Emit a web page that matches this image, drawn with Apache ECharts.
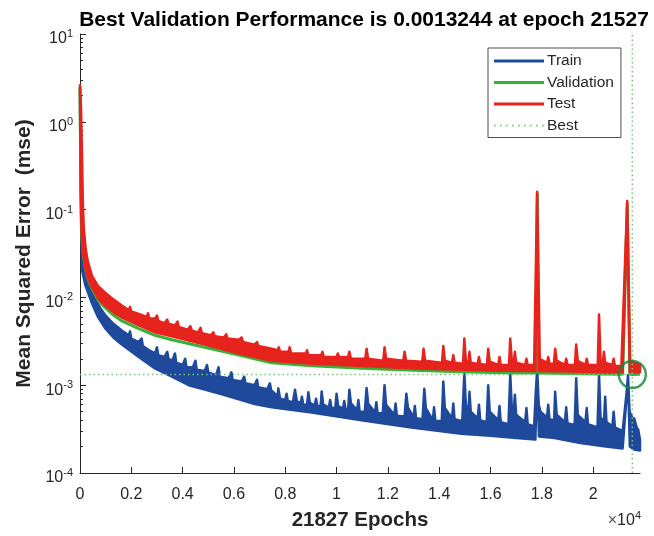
<!DOCTYPE html>
<html>
<head>
<meta charset="utf-8">
<script src="https://cdn.jsdelivr.net/npm/echarts@6/dist/echarts.min.js"></script>
<style>
  html, body { margin: 0; padding: 0; background: #fff; }
  #chart { width: 654px; height: 536px; }
</style>
</head>
<body>
<div id="chart"></div>
<script>
// performance record: [epoch, mse]
const bestEpoch = 21527
const bestPerf = 0.0013244
const totalEpochs = 21827

const xTickValues = [0, 2000, 4000, 6000, 8000, 10000, 12000, 14000, 16000, 18000, 20000]
const xTickLabels = ['0', '0.2', '0.4', '0.6', '0.8', '1', '1.2', '1.4', '1.6', '1.8', '2']

// train curve is a dense noisy band: upper and lower edge
const trainTop = [
  [0, 2.4], [15, 0.6], [40, 0.12], [80, 0.04], [150, 0.026], [250, 0.018], [400, 0.013], [600, 0.0095],
  [800, 0.0075], [1000, 0.0062], [1300, 0.005], [1630, 0.0042], [1900, 0.0037], [1950, 0.0041], [2000, 0.0034],
  [2290, 0.0031], [2400, 0.0034], [2450, 0.0028], [2700, 0.0025], [2920, 0.0023], [3000, 0.0027], [3050, 0.0022],
  [3300, 0.0021], [3400, 0.0024], [3450, 0.002], [3600, 0.0019], [3700, 0.0023], [3750, 0.0018], [4000, 0.0017],
  [4100, 0.002], [4150, 0.0016], [4400, 0.0016], [4500, 0.0019], [4550, 0.0015], [4860, 0.00145], [4950, 0.0017],
  [5000, 0.0014], [5300, 0.0013], [5400, 0.0016], [5450, 0.00125], [5800, 0.0012], [5900, 0.0014], [5950, 0.00115],
  [6300, 0.0011], [6400, 0.00125], [6450, 0.00105], [6800, 0.001], [6900, 0.00115], [6950, 0.00095], [7300, 0.0009],
  [7400, 0.00105], [7450, 0.00088], [7700, 0.00075], [7730, 0.00092], [7800, 0.0007], [8000, 0.00068], [8050, 0.0008],
  [8100, 0.00066], [8300, 0.00064], [8380, 0.00089], [8450, 0.00066], [8600, 0.00062], [8650, 0.00074],
  [8700, 0.0006], [8850, 0.0006], [8900, 0.00083], [8960, 0.00063], [9150, 0.00059], [9200, 0.0007],
  [9250, 0.00058], [9380, 0.00058], [9420, 0.00085], [9480, 0.0006], [9700, 0.00056], [9750, 0.00068],
  [9800, 0.00055], [9950, 0.00055], [10000, 0.0008], [10060, 0.00058], [10250, 0.00054], [10300, 0.00066],
  [10350, 0.00053], [10450, 0.00053], [10500, 0.00089], [10560, 0.00062], [10800, 0.00052], [10850, 0.00068],
  [10900, 0.0005], [11100, 0.0005], [11170, 0.00093], [11230, 0.00062], [11500, 0.00049], [11550, 0.00064],
  [11600, 0.00048], [11800, 0.00048], [11870, 0.001], [11930, 0.0006], [12250, 0.00046], [12300, 0.00062],
  [12350, 0.00045], [12650, 0.00044], [12720, 0.0008], [12780, 0.00056], [13000, 0.00043], [13050, 0.00058],
  [13100, 0.00042], [13350, 0.00041], [13420, 0.00091], [13480, 0.00055], [13750, 0.0004], [13800, 0.00056],
  [13850, 0.00039], [14100, 0.00039], [14160, 0.0011], [14220, 0.00055], [14500, 0.00042], [14550, 0.00062],
  [14600, 0.00041], [14900, 0.00039], [14980, 0.0014], [15040, 0.0006], [15140, 0.0005], [15180, 0.00084],
  [15230, 0.0005], [15500, 0.00042], [15550, 0.0006], [15600, 0.0004], [15850, 0.00038], [15910, 0.001],
  [15970, 0.0005], [16300, 0.0004], [16350, 0.00058], [16400, 0.00038], [16700, 0.00036], [16770, 0.00135],
  [16830, 0.00055], [16900, 0.00048], [16950, 0.00078], [17000, 0.00046], [17350, 0.00038], [17400, 0.00055],
  [17450, 0.00036], [17700, 0.00034], [17770, 0.0009], [17820, 0.0015], [17880, 0.0006], [17950, 0.0005],
  [18200, 0.00043], [18250, 0.0006], [18300, 0.00041], [18480, 0.0004], [18520, 0.00084], [18580, 0.00046],
  [18900, 0.00038], [18950, 0.00056], [19000, 0.00037], [19280, 0.00035], [19340, 0.0012], [19400, 0.00046],
  [19700, 0.00038], [19750, 0.00055], [19800, 0.00036], [20170, 0.00033], [20230, 0.0013], [20290, 0.00043],
  [20420, 0.00038], [20470, 0.00074], [20520, 0.00038], [20750, 0.00034], [20800, 0.0005], [20850, 0.00033],
  [21150, 0.0003], [21300, 0.0008], [21360, 0.0013], [21420, 0.0005], [21480, 0.00046], [21560, 0.0004],
  [21600, 0.00042], [21700, 0.00033], [21760, 0.00031], [21827, 0.00024]
]
const trainBottom = [
  [0, 2.2], [15, 0.45], [40, 0.09], [80, 0.0205], [200, 0.014], [470, 0.0085], [700, 0.006], [970, 0.0045],
  [1300, 0.0035], [1630, 0.0029], [2290, 0.0021], [2920, 0.00155], [3580, 0.00125], [4240, 0.001], [4860, 0.00089],
  [5530, 0.00079], [6190, 0.00069], [6810, 0.00061], [7470, 0.00056], [9030, 0.00049], [10970, 0.0004],
  [12920, 0.00033], [14860, 0.00028], [16000, 0.000265], [17000, 0.00025], [17750, 0.00024], [17820, 0.0013],
  [17890, 0.00026], [18500, 0.00025], [19500, 0.00022], [20500, 0.0002], [21150, 0.00019], [21360, 0.0012],
  [21430, 0.0002], [21600, 0.000185], [21827, 0.00018]
]

const validation = [
  [0, 2.5], [10, 1.1], [30, 0.22], [60, 0.058], [100, 0.036], [200, 0.022], [300, 0.0165], [470, 0.0125],
  [700, 0.0094], [970, 0.0077], [1300, 0.0063], [1630, 0.0054], [2290, 0.0044], [2920, 0.0037], [3580, 0.0033],
  [4860, 0.0027], [6190, 0.0022], [7470, 0.0018], [9000, 0.00166], [11000, 0.00156], [13000, 0.00148],
  [14860, 0.00142], [16500, 0.00139], [17760, 0.00138], [17820, 0.155], [17880, 0.00138], [19000, 0.00136],
  [20200, 0.00134], [21150, 0.00133], [21330, 0.118], [21430, 0.00133], [21527, 0.0013244], [21827, 0.00133]
]

const testTop = [
  [0, 2.6], [40, 1.4], [80, 0.4], [110, 0.12], [150, 0.06], [220, 0.036], [300, 0.026], [470, 0.0175],
  [700, 0.0135], [970, 0.0114], [1300, 0.0095], [1630, 0.0081], [1900, 0.0072], [1950, 0.0078], [2000, 0.0069],
  [2290, 0.0065], [2600, 0.006], [2650, 0.0066], [2700, 0.0058], [2920, 0.0057], [3000, 0.0062], [3050, 0.0054],
  [3300, 0.0051], [3400, 0.0056], [3450, 0.005], [3700, 0.0048], [3800, 0.0053], [3850, 0.0046], [4200, 0.0043],
  [4300, 0.0047], [4350, 0.0042], [4600, 0.004], [4700, 0.0045], [4750, 0.0039], [5100, 0.0037], [5200, 0.004],
  [5250, 0.0036], [5600, 0.0035], [5700, 0.0038], [5750, 0.0034], [6190, 0.0033], [6300, 0.0035], [6350, 0.0031],
  [6800, 0.0029], [6900, 0.0031], [6950, 0.0028], [7470, 0.0026], [7700, 0.0025], [7750, 0.0027], [7800, 0.0024],
  [8130, 0.0024], [8170, 0.0027], [8230, 0.0023], [8800, 0.0023], [8850, 0.0025], [8900, 0.0022], [9400, 0.0022],
  [9450, 0.0024], [9500, 0.0021], [10000, 0.0021], [10050, 0.0023], [10100, 0.0021], [10450, 0.0021],
  [10500, 0.0024], [10560, 0.002], [11120, 0.002], [11170, 0.0026], [11230, 0.002], [11820, 0.0019],
  [11870, 0.0027], [11930, 0.002], [12600, 0.0019], [12650, 0.0024], [12710, 0.0019], [13340, 0.00185],
  [13390, 0.0026], [13450, 0.0019], [14110, 0.0018], [14160, 0.0028], [14220, 0.0019], [14500, 0.0018],
  [14550, 0.0022], [14600, 0.0018], [14930, 0.00175], [14980, 0.0034], [15040, 0.0019], [15140, 0.0018],
  [15180, 0.0024], [15230, 0.0018], [15500, 0.00175], [15550, 0.0021], [15600, 0.00175], [15860, 0.0017],
  [15910, 0.0026], [15970, 0.00185], [16300, 0.0017], [16350, 0.0021], [16400, 0.0017], [16720, 0.0017],
  [16770, 0.0034], [16830, 0.0019], [16900, 0.0018], [16950, 0.0024], [17000, 0.0018], [17350, 0.0017],
  [17400, 0.002], [17450, 0.0017], [17700, 0.0017], [17820, 0.16], [17920, 0.002], [18200, 0.0018],
  [18250, 0.0021], [18300, 0.00175], [18470, 0.00175], [18520, 0.0026], [18580, 0.0019], [18900, 0.0017],
  [18950, 0.002], [19000, 0.0017], [19290, 0.0017], [19340, 0.0029], [19400, 0.0019], [19700, 0.0017],
  [19750, 0.002], [19800, 0.0017], [20180, 0.0017], [20230, 0.0064], [20290, 0.0019], [20380, 0.0018],
  [20420, 0.0024], [20470, 0.0018], [20750, 0.0017], [20800, 0.002], [20850, 0.00165], [21100, 0.00165],
  [21330, 0.125], [21440, 0.0019], [21600, 0.0018], [21827, 0.00172]
]
const testBottom = [
  [0, 2.4], [10, 1.0], [30, 0.2], [60, 0.055], [100, 0.035], [200, 0.022], [300, 0.017], [470, 0.013],
  [700, 0.0098], [970, 0.0081], [1300, 0.0068], [1630, 0.0059], [2290, 0.0048], [2920, 0.004], [3580, 0.0036],
  [4860, 0.0029], [6190, 0.0023], [7470, 0.0019], [9000, 0.00175], [11000, 0.00165], [13000, 0.00155],
  [14860, 0.0015], [16500, 0.00146], [17750, 0.00145], [17820, 0.14], [17890, 0.00145], [19000, 0.00143],
  [20500, 0.0014], [21150, 0.0014], [21330, 0.11], [21430, 0.0014], [21827, 0.0014]
]

const yMin = 1e-4
const yMax = 10

const textColor = '#262626'
const font = 'Liberation Sans, Arial, sans-serif'
const colors = {
  train: '#1f4a9c',
  validation: '#36b336',
  test: '#e6231c',
  best: '#72c872',
  circle: '#1d7f3b'
}

// minor ticks of the log axis, 2..9 in every decade
const minorTicks = []
for (let d = -4; d < 1; d++) {
  for (let k = 2; k < 10; k++) minorTicks.push(k * Math.pow(10, d))
}

// dotted sample for the "Best" legend entry
let dotPath = 'path://M0,0M50,3'
for (let x = 0; x <= 48; x += 6) dotPath += 'M' + x + ',0.8h1.6v1.6h-1.6z'

// 10 with a raised exponent
const supRich = {
  b: { fontSize: 16, fontFamily: font, color: textColor, lineHeight: 16 },
  e: { fontSize: 11, fontFamily: font, color: textColor, lineHeight: 16, padding: [0, 0, 10, 0] }
}

function band (name, color, top, bottom, z) {
  return {
    name: name,
    type: 'custom',
    z: z,
    silent: true,
    itemStyle: { color: color },
    data: [top[0]],
    encode: { x: 0, y: 1 },
    renderItem: (params, api) => {
      const pts = top.map(p => api.coord(p))
        .concat(bottom.slice().reverse().map(p => api.coord(p)))
      return {
        type: 'polygon',
        shape: { points: pts },
        style: { fill: color, stroke: color, lineWidth: 2.5, lineJoin: 'round' }
      }
    }
  }
}

const myChart = echarts.init(document.getElementById('chart'))
const options = {
  animation: false,
  backgroundColor: '#fff',
  grid: { left: 80, right: 14, top: 34, bottom: 63 },
  legend: {
    orient: 'vertical',
    left: 488,
    top: 48,
    padding: [5, 7, 4, 6],
    itemWidth: 50,
    itemHeight: 3,
    itemGap: 5.5,
    backgroundColor: '#fff',
    borderColor: '#4d4d4d',
    borderWidth: 1,
    borderRadius: 0,
    selectedMode: false,
    textStyle: { fontSize: 15.5, fontFamily: font, color: textColor, padding: [0, 0, 0, -2] },
    data: [
      { name: 'Train', icon: 'rect' },
      { name: 'Validation', icon: 'rect' },
      { name: 'Test', icon: 'rect' },
      { name: 'Best', icon: dotPath }
    ]
  },
  graphic: [
    {
      type: 'text',
      x: 364,
      y: 20,
      style: {
        text: 'Best Validation Performance is 0.0013244 at epoch 21527',
        font: 'bold 21px ' + font,
        fill: '#000',
        align: 'center',
        verticalAlign: 'middle'
      }
    },
    {
      type: 'text',
      x: 641,
      y: 521,
      style: {
        text: '{x|×}{b|10}{e|4}',
        align: 'right',
        verticalAlign: 'middle',
        rich: {
          x: { fontSize: 16, fontFamily: font, fill: '#555', lineHeight: 16 },
          b: { fontSize: 16, fontFamily: font, fill: textColor, lineHeight: 16 },
          e: { fontSize: 11, fontFamily: font, fill: textColor, lineHeight: 16, padding: [0, 0, 10, 0] }
        }
      }
    }
  ],
  xAxis: {
    type: 'value',
    min: 0,
    max: totalEpochs,
    interval: 2000,
    name: '21827 Epochs',
    nameLocation: 'middle',
    nameGap: 37,
    nameTextStyle: { fontSize: 20.5, fontWeight: 'bold', fontFamily: font, color: textColor },
    axisLine: { lineStyle: { color: textColor, width: 1 } },
    axisTick: { inside: true, length: 6, customValues: xTickValues, lineStyle: { color: textColor } },
    axisLabel: {
      customValues: xTickValues,
      margin: 14,
      fontSize: 16,
      fontFamily: font,
      color: textColor,
      formatter: v => xTickLabels[xTickValues.indexOf(v)]
    },
    splitLine: { show: false }
  },
  yAxis: [
    {
      type: 'log',
      logBase: 10,
      min: yMin,
      max: yMax,
      name: 'Mean Squared Error  (mse)',
      nameLocation: 'middle',
      nameGap: 45,
      nameTextStyle: { fontSize: 21, fontWeight: 'bold', fontFamily: font, color: textColor },
      axisLine: { show: true, lineStyle: { color: textColor, width: 1 } },
      axisTick: { inside: true, length: 6, lineStyle: { color: textColor } },
      axisLabel: {
        margin: 7,
        padding: [10, 0, 0, 0],
        formatter: v => '{b|10}{e|' + Math.round(Math.log10(v)) + '}',
        rich: supRich
      },
      splitLine: { show: false }
    },
    {
      type: 'log',
      logBase: 10,
      min: yMin,
      max: yMax,
      position: 'left',
      axisLine: { show: false },
      axisLabel: { show: false },
      splitLine: { show: false },
      axisTick: { inside: true, length: 3, customValues: minorTicks, lineStyle: { color: textColor } }
    }
  ],
  series: [
    band('Train', colors.train, trainTop, trainBottom, 2),
    {
      name: 'Validation',
      type: 'line',
      z: 3,
      symbol: 'none',
      silent: true,
      itemStyle: { color: colors.validation },
      lineStyle: { color: colors.validation, width: 3 },
      data: validation
    },
    band('Test', colors.test, testTop, testBottom, 4),
    {
      name: 'Best',
      type: 'line',
      z: 5,
      symbol: 'none',
      silent: true,
      itemStyle: { color: colors.best },
      lineStyle: { color: colors.best, width: 1.5, type: [1.5, 3] },
      data: [[0, bestPerf], [bestEpoch, bestPerf]]
    },
    {
      name: 'Best',
      type: 'line',
      z: 5,
      symbol: 'none',
      silent: true,
      itemStyle: { color: colors.best },
      lineStyle: { color: colors.best, width: 1.5, type: [1.5, 3] },
      data: [[bestEpoch, yMin], [bestEpoch, yMax]]
    },
    {
      name: 'bestPoint',
      type: 'scatter',
      z: 6,
      silent: true,
      symbol: 'circle',
      symbolSize: 27,
      itemStyle: { color: 'rgba(0,0,0,0)', borderColor: colors.circle, borderWidth: 2.5 },
      data: [[bestEpoch, bestPerf]]
    }
  ]
}
myChart.setOption(options)
</script>
</body>
</html>
